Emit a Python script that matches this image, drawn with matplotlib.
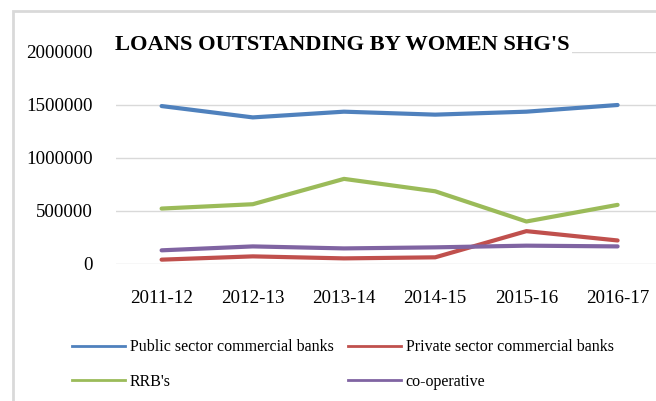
import matplotlib
matplotlib.use("Agg")
import matplotlib.pyplot as plt
from matplotlib.patches import Rectangle
from matplotlib.lines import Line2D

# Loans outstanding by women SHGs, by agency and year
years = ["2011-12", "2012-13", "2013-14", "2014-15", "2015-16", "2016-17"]
public_sector = [1490000, 1383000, 1437000, 1409000, 1437000, 1500000]
private_sector = [41000, 72000, 53000, 63000, 310000, 222000]
rrbs = [523000, 564000, 803000, 686000, 401000, 558000]
co_operative = [129000, 166000, 147000, 157000, 173000, 166000]

series_names = ["Public sector commercial banks", "Private sector commercial banks",
                "RRB's", "co-operative"]
series_values = [public_sector, private_sector, rrbs, co_operative]
series_colors = ["#4F81BD", "#C0504D", "#9BBB59", "#8064A2"]

y_ticks = [0, 500000, 1000000, 1500000, 2000000]

plt.rcParams["font.family"] = ["Liberation Serif", "DejaVu Serif"]

W, H = 656, 401
fig = plt.figure(figsize=(W / 100, H / 100), dpi=100)
fig.patch.set_facecolor("white")

# light chart-area frame (runs off the right and bottom edges)
fig.patches.append(Rectangle((13 / W, -0.1), 1.2, 1 - 11 / H + 0.1,
                             transform=fig.transFigure, fill=False,
                             edgecolor="#D9D9D9", linewidth=2, zorder=0))

# plot area spans six category slots; the last half slot is cut off by the figure edge
left_px, right_px, top_px, bottom_px = 116, 116 + 6 * 91.2, 52, 264
ax = fig.add_axes([left_px / W, 1 - bottom_px / H,
                   (right_px - left_px) / W, (bottom_px - top_px) / H])
ax.set_facecolor("none")

x = list(range(len(years)))
lines = {}
for name, vals, col in zip(series_names, series_values, series_colors):
    ax.plot(x, vals, color=col, linewidth=3.0, solid_capstyle="round",
            solid_joinstyle="round", label=name, zorder=3)

ax.set_xlim(-0.5, len(years) - 0.5)
ax.set_ylim(0, 2000000)
ax.set_yticks(y_ticks)
ax.set_yticklabels([str(v) for v in y_ticks])
ax.set_xticks(x)
ax.set_xticklabels(years)
ax.yaxis.grid(True, color="#D9D9D9", linewidth=1.0)
ax.set_axisbelow(True)
for s in ax.spines.values():
    s.set_visible(False)
ax.tick_params(axis="both", length=0, labelsize=13.6, colors="black")
ax.tick_params(axis="y", pad=16.5)
ax.tick_params(axis="x", pad=18.5)

fig.text(115 / W, 1 - 45 / H, "LOANS OUTSTANDING BY WOMEN SHG'S",
         fontsize=16.2, fontweight="bold", ha="left", va="center",
         bbox=dict(facecolor="white", edgecolor="none", pad=2), zorder=5)

# legend reads row by row: (Public, Private) then (RRB's, co-operative)
order = [0, 2, 1, 3]
handles = [Line2D([0], [0], color=series_colors[i], linewidth=2) for i in order]
labels = [series_names[i] for i in order]
fig.legend(handles, labels, loc="upper left",
           bbox_to_anchor=(58 / W, 1 - 325 / H), ncol=2, frameon=False,
           fontsize=11.5, handlelength=3.3, handletextpad=0.3,
           columnspacing=0.9, labelspacing=1.15)

fig.savefig("out.png", dpi=100, facecolor="white")
